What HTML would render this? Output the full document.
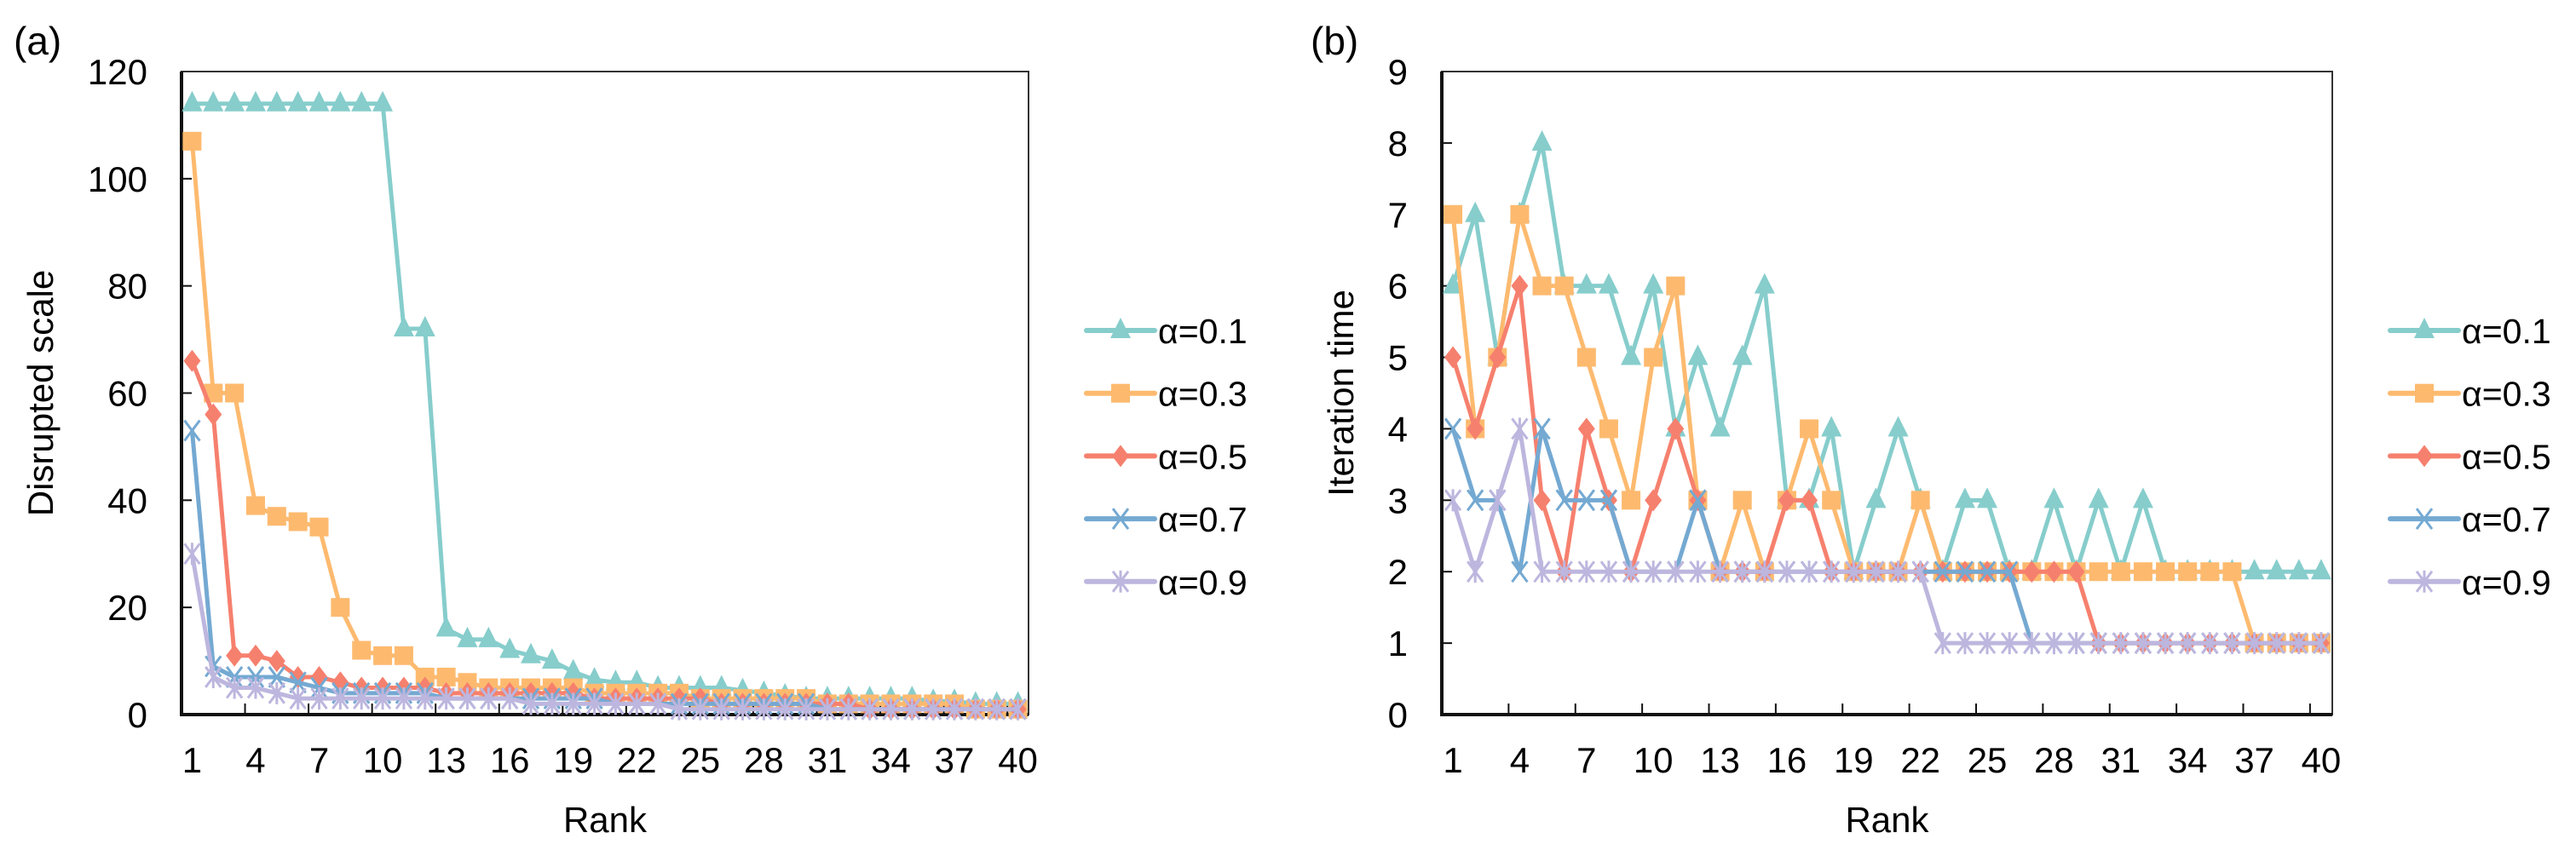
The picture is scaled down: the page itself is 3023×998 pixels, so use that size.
<!DOCTYPE html>
<html><head><meta charset="utf-8"><style>
html,body{margin:0;padding:0;background:#fff;}
svg{display:block;font-family:"Liberation Sans",Arial,sans-serif;}
</style></head><body>
<svg id="chart" width="3023" height="998" viewBox="0 0 3023 998" xmlns="http://www.w3.org/2000/svg">
<text x="16" y="64" font-size="46" fill="#000">(a)</text>
<text x="1538" y="64" font-size="46" fill="#000">(b)</text>
</svg>
<script>
const categories = Array.from({length:40},(_,i)=>i+1);
const seriesNames = ["α=0.1","α=0.3","α=0.5","α=0.7","α=0.9"];
const xTickLabels = [1,4,7,10,13,16,19,22,25,28,31,34,37,40];
const aYTicks = [0,20,40,60,80,100,120];
const bYTicks = [0,1,2,3,4,5,6,7,8,9];
const a01 = [114,114,114,114,114,114,114,114,114,114,72,72,16,14,14,12,11,10,8,6.5,6,6,5,5,5,5,4.5,4,3.5,3,3,3,3,3,3,2.5,2.5,2,2,2];
const a03 = [107,60,60,39,37,36,35,20,12,11,11,7,7,6,5,5,5,5,5,4,4,4,4,4,3,3,3,3,3,3,2,2,2,2,2,2,2,1,1,1];
const a05 = [66,56,11,11,10,7,7,6,5,5,5,5,4,4,4,4,4,4,4,3,3,3,3,3,3,2,2,2,2,2,2,2,1,1,1,1,1,1,1,1];
const a07 = [53,9,7,7,7,6,5,4,4,4,4,4,3,3,3,3,3,3,3,3,2,2,2,2,2,2,2,2,2,2,1,1,1,1,1,1,1,1,1,1];
const a09 = [30,7,5,5,4,3,3,3,3,3,3,3,3,3,3,3,2,2,2,2,2,2,2,1,1,1,1,1,1,1,1,1,1,1,1,1,1,1,1,1];
const b01 = [6,7,5,7,8,6,6,6,5,6,4,5,4,5,6,3,3,4,2,3,4,3,2,3,3,2,2,3,2,3,2,3,2,2,2,2,2,2,2,2];
const b03 = [7,4,5,7,6,6,5,4,3,5,6,3,2,3,2,3,4,3,2,2,2,3,2,2,2,2,2,2,2,2,2,2,2,2,2,2,1,1,1,1];
const b05 = [5,4,5,6,3,2,4,3,2,3,4,3,2,2,2,3,3,2,2,2,2,2,2,2,2,2,2,2,2,1,1,1,1,1,1,1,1,1,1,1];
const b07 = [4,3,3,2,4,3,3,3,2,2,2,3,2,2,2,2,2,2,2,2,2,2,2,2,2,2,1,1,1,1,1,1,1,1,1,1,1,1,1,1];
const b09 = [3,2,3,4,2,2,2,2,2,2,2,2,2,2,2,2,2,2,2,2,2,2,1,1,1,1,1,1,1,1,1,1,1,1,1,1,1,1,1,1];

const colors = ["#86CDCC","#FDBA6F","#F6806E","#74A9D2","#BDB6DE"];
const markers = ["tri","sq","dia","x","star"];
const NS="http://www.w3.org/2000/svg";
const svg=document.getElementById('chart');
function mk(tag,attrs,parent){const e=document.createElementNS(NS,tag);for(const k in attrs)e.setAttribute(k,attrs[k]);(parent||svg).appendChild(e);return e;}

function marker(g,type,x,y,c){
  let e;
  if(type==="tri"){e=mk('polygon',{points:`${x},${y-15} ${x-12},${y+9} ${x+12},${y+9}`,fill:c},g);}
  else if(type==="sq"){e=mk('rect',{x:x-11,y:y-11,width:22,height:22,fill:c},g);}
  else if(type==="dia"){e=mk('polygon',{points:`${x},${y-13} ${x+10},${y} ${x},${y+13} ${x-10},${y}`,fill:c},g);}
  else if(type==="x"){e=mk('path',{d:`M${x-9},${y-12}L${x+9},${y+12}M${x+9},${y-12}L${x-9},${y+12}`,stroke:c,'stroke-width':3,fill:'none'},g);}
  else {e=mk('path',{d:`M${x-9},${y-12}L${x+9},${y+12}M${x+9},${y-12}L${x-9},${y+12}M${x},${y-13}L${x},${y+13}`,stroke:c,'stroke-width':3,fill:'none'},g);}
  return e;
}

function panel(id,L,R,T,B,ymax,yTicks,seriesList,titleY,titleX,legX){
  const g=mk('g',{});
  
  
  const n=categories.length, bw=(R-L)/n;
  const xs=i=>L+(i+0.5)*bw;
  const ys=v=>B-(v/ymax)*(B-T);
  // frame
  const fr=mk('rect',{x:L,y:T,width:R-L,height:B-T,fill:'none',stroke:'#333','stroke-width':2},g);
  
  
  const ax=mk('path',{d:`M${L},${T}L${L},${B}L${R},${B}`,fill:'none',stroke:'#111','stroke-width':4},g);
  
  
  // y ticks
  yTicks.forEach(v=>{
    const y=ys(v);
    if(v>0&&v<ymax) mk('line',{x1:L,x2:L+12,y1:y,y2:y,stroke:'#111','stroke-width':2},g);
    const t=mk('text',{x:L-40,y:y+15,'font-size':42,'text-anchor':'end',fill:'#000'},g);
    t.textContent=v;
    
    
  });
  // x ticks
  for(let k=3;k<n;k+=3){const x=L+k*bw;mk('line',{x1:x,x2:x,y1:B,y2:B-13,stroke:'#111','stroke-width':2},g);}
  xTickLabels.forEach(c=>{
    const t=mk('text',{x:xs(c-1),y:907,'font-size':42,'text-anchor':'middle',fill:'#000'},g);
    t.textContent=c;
    
    
  });
  const xt=mk('text',{x:(L+R)/2,y:977,'font-size':42,'text-anchor':'middle',fill:'#000'},g);
  xt.textContent='Rank';
  
  
  const yt=mk('text',{x:0,y:0,'font-size':42,'text-anchor':'middle',fill:'#000',transform:`translate(${titleX},${(T+B)/2}) rotate(-90)`},g);
  yt.textContent=titleY;
  
  
  // series
  seriesList.forEach((vals,si)=>{
    const sg=mk('g',{},g);
    
    
    const pts=vals.map((v,i)=>xs(i)+','+ys(v)).join(' ');
    const pl=mk('polyline',{points:pts,fill:'none',stroke:colors[si],'stroke-width':5,'stroke-linejoin':'round'},sg);
    
    
    vals.forEach((v,i)=>{
      const m=marker(sg,markers[si],xs(i),ys(v),colors[si]);
      
      
    });
  });
  // legend
  const lg=mk('g',{},g);
  
  
  seriesNames.forEach((nm,si)=>{
    const y=388+si*73.7;
    const eg=mk('g',{},lg);
    
    
    mk('line',{x1:legX,x2:legX+80,y1:y,y2:y,stroke:colors[si],'stroke-width':6,'stroke-linecap':'round'},eg);
    marker(eg,markers[si],legX+40,y,colors[si]);
    const t=mk('text',{x:legX+84,y:y+15,'font-size':41,fill:'#000'},eg);
    t.textContent=nm;
  });
}
panel('panel-a',213,1207,84,839,120,aYTicks,[a01,a03,a05,a07,a09],'Disrupted scale',62,1275);
panel('panel-b',1692,2737,84,839,9,bYTicks,[b01,b03,b05,b07,b09],'Iteration time',1588,2805);
</script>
</body></html>
